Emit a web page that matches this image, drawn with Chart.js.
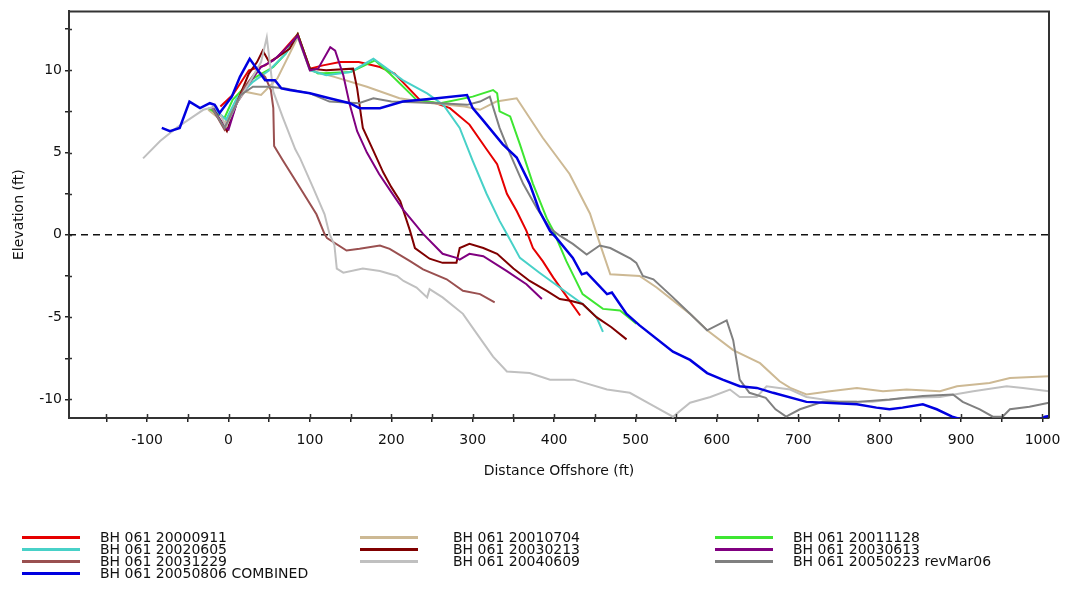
<!DOCTYPE html>
<html>
<head>
<meta charset="utf-8">
<title>BH 061 beach profiles</title>
<script src="https://cdn.jsdelivr.net/npm/chart.js@4.4.1/dist/chart.umd.min.js"></script>
<style>
  body { margin: 0; background: #fff; }
  #wrap { position: relative; width: 1071px; height: 613px; }
  #legend { position: absolute; left: 0; top: 0; width: 1071px; height: 613px; pointer-events: none;
            font: 14px "DejaVu Sans", sans-serif; color: #111; }
  .item { position: absolute; height: 12px; line-height: 12px; white-space: nowrap; }
  .swatch { position: absolute; left: 0; top: 5px; width: 58px; height: 3px; }
  .label { position: absolute; top: 0; }
</style>
</head>
<body>
<div id="wrap">
  <canvas id="chart"></canvas>
  <div id="legend"></div>
</div>
<script>
// axis ranges and ticks
const X_MIN = -196, X_MAX = 1008;
const Y_MIN = -11.13, Y_MAX = 13.58;
const X_TICKS = [-150, -100, -50, 0, 50, 100, 150, 200, 250, 300, 350, 400, 450, 500,
                 550, 600, 650, 700, 750, 800, 850, 900, 950, 1000];
const Y_TICKS = [-10, -7.5, -5, -2.5, 0, 2.5, 5, 7.5, 10, 12.5];

// profile names, in legend order
const names = ['BH 061 20000911', 'BH 061 20010704', 'BH 061 20011128',
               'BH 061 20020605', 'BH 061 20030213', 'BH 061 20030613',
               'BH 061 20031229', 'BH 061 20040609', 'BH 061 20050223 revMar06',
               'BH 061 20050806 COMBINED'];
const colors = ['#e60000', '#cdb994', '#3ee632', '#48d1c8', '#800000', '#800080',
                '#9a5050', '#c0c0c0', '#808080', '#0000e0'];

// [distance offshore (ft), elevation (ft)]
const p20000911 = [[-10,7.8],[5,8.5],[25,10.0],[45,10.3],[60,10.8],[85,12.2],[100,10.1],[116,10.3],
  [137,10.5],[160,10.5],[186,10.2],[204,9.8],[235,8.2],[255,8.0],[272,7.7],[296,6.7],[317,5.2],
  [330,4.3],[342,2.5],[354,1.45],[366,0.24],[374,-0.8],[386,-1.6],[399,-2.6],[419,-4.0],[432,-4.9]];
const p20010704 = [[-25,7.6],[-5,6.8],[10,8.0],[20,8.7],[40,8.5],[60,9.5],[85,12.0],[100,10.0],
  [130,9.6],[170,9.0],[210,8.3],[250,8.0],[290,7.8],[309,7.6],[329,8.1],[354,8.3],[386,5.9],
  [419,3.7],[444,1.3],[456,-0.5],[469,-2.4],[505,-2.5],[526,-3.2],[567,-4.8],[588,-5.8],
  [620,-7.0],[653,-7.8],[677,-8.9],[690,-9.3],[710,-9.7],[739,-9.5],[772,-9.3],[804,-9.5],
  [833,-9.4],[874,-9.5],[895,-9.2],[935,-9.0],[960,-8.7],[1008,-8.6]];
const p20011128 = [[-25,7.7],[-5,7.1],[5,8.2],[30,9.5],[55,10.2],[70,11.0],[85,12.2],[100,10.1],
  [110,9.8],[150,9.9],[180,10.6],[198,9.8],[231,8.2],[260,8.0],[300,8.4],[325,8.8],[330,8.6],
  [333,7.5],[346,7.2],[358,5.5],[374,3.1],[391,1.0],[399,0.25],[415,-1.6],[435,-3.6],
  [460,-4.5],[481,-4.6],[501,-5.4]];
const p20020605 = [[-18,7.7],[-3,7.0],[10,8.3],[30,9.3],[50,10.0],[70,11.0],[85,12.1],[100,10.0],
  [120,9.7],[150,9.9],[178,10.7],[214,9.4],[244,8.6],[264,7.9],[284,6.5],[300,4.5],[317,2.5],
  [333,0.85],[342,0.05],[358,-1.4],[382,-2.3],[407,-3.2],[435,-4.2],[452,-5.0],[460,-5.9]];
const p20030213 = [[-20,7.7],[-8,6.8],[-2,6.3],[10,8.0],[25,9.8],[35,10.5],[42,11.2],[50,10.5],
  [60,10.8],[75,11.3],[85,12.2],[100,10.1],[120,10.0],[153,10.1],[158,8.9],[165,6.5],[178,5.1],
  [190,3.8],[200,2.9],[211,2.05],[223,0.24],[229,-0.8],[247,-1.45],[263,-1.7],[280,-1.7],
  [284,-0.8],[296,-0.55],[313,-0.8],[330,-1.15],[350,-2.05],[370,-2.8],[391,-3.4],[407,-3.9],
  [420,-4.0],[435,-4.2],[452,-5.0],[470,-5.6],[489,-6.35]];
const p20030613 = [[-20,7.8],[-6,6.6],[0,6.4],[10,8.0],[25,9.2],[40,10.2],[55,10.6],[70,11.3],
  [85,12.1],[100,10.0],[110,10.1],[125,11.4],[131,11.2],[141,9.7],[149,7.9],[158,6.3],[170,5.0],
  [185,3.7],[200,2.6],[215,1.5],[230,0.6],[239,0.06],[263,-1.15],[280,-1.4],[284,-1.5],
  [296,-1.15],[313,-1.3],[342,-2.2],[366,-3.0],[385,-3.9]];
const p20031229 = [[-20,7.7],[-5,6.4],[5,7.5],[20,9.0],[35,10.0],[45,9.6],[52,8.8],[55,7.7],
  [56,5.4],[67,4.5],[88,2.85],[108,1.25],[118,0.05],[121,-0.2],[145,-0.95],[161,-0.85],
  [186,-0.65],[198,-0.85],[223,-1.6],[239,-2.1],[268,-2.7],[288,-3.4],[309,-3.6],[327,-4.1]];
const p20040609 = [[-105,4.65],[-84,5.7],[-64,6.5],[-43,7.2],[-31,7.6],[-15,7.8],[-3,6.6],
  [10,8.0],[25,9.2],[40,10.5],[47,12.0],[55,8.7],[67,7.1],[82,5.2],[88,4.65],[104,2.85],
  [118,1.25],[124,0.05],[130,-0.6],[133,-2.05],[141,-2.3],[165,-2.05],[186,-2.2],[207,-2.5],
  [215,-2.8],[231,-3.2],[244,-3.8],[247,-3.3],[263,-3.8],[288,-4.8],[305,-6.0],[325,-7.4],
  [342,-8.3],[370,-8.4],[395,-8.8],[424,-8.8],[465,-9.4],[493,-9.6],[522,-10.4],[546,-11.05],
  [567,-10.2],[592,-9.85],[616,-9.4],[628,-9.85],[649,-9.85],[661,-9.2],[690,-9.4],[710,-9.85],
  [751,-10.15],[791,-10.15],[833,-9.9],[874,-9.85],[915,-9.5],[956,-9.2],[976,-9.3],[1008,-9.5]];
const p20050223 = [[-20,7.7],[-5,6.5],[5,7.5],[15,8.5],[30,9.0],[50,9.0],[70,8.9],[100,8.6],
  [124,8.1],[160,8.0],[178,8.3],[200,8.1],[260,8.0],[293,7.9],[309,8.1],[321,8.4],[333,6.5],
  [346,4.9],[362,3.1],[379,1.6],[395,0.4],[407,-0.05],[423,-0.55],[440,-1.2],[456,-0.65],
  [469,-0.8],[494,-1.45],[501,-1.7],[509,-2.5],[522,-2.7],[546,-3.8],[567,-4.8],[588,-5.8],
  [612,-5.2],[620,-6.4],[628,-8.8],[640,-9.6],[660,-9.9],[672,-10.6],[685,-11.05],[702,-10.6],
  [730,-10.15],[772,-10.15],[812,-10.0],[853,-9.8],[890,-9.7],[902,-10.15],[923,-10.6],
  [939,-11.05],[951,-11.05],[960,-10.6],[984,-10.45],[1008,-10.2]];
const p20050806 = [[-82,6.5],[-72,6.3],[-60,6.5],[-48,8.1],[-35,7.7],[-23,8.0],[-17,7.9],
  [-11,7.4],[4,8.4],[14,9.6],[26,10.7],[36,10.0],[45,9.4],[57,9.4],[65,8.9],[75,8.8],[100,8.6],
  [124,8.3],[149,8.0],[161,7.7],[186,7.7],[214,8.1],[256,8.3],[293,8.5],[300,7.7],[312,7.0],
  [337,5.5],[354,4.7],[370,3.1],[382,1.45],[395,0.24],[403,-0.2],[423,-1.4],[434,-2.4],
  [440,-2.3],[465,-3.6],[471,-3.5],[489,-4.8],[505,-5.5],[546,-7.1],[567,-7.6],[588,-8.4],
  [607,-8.8],[628,-9.2],[649,-9.3],[669,-9.6],[710,-10.15],[772,-10.3],[796,-10.5],[812,-10.6],
  [828,-10.5],[853,-10.3],[870,-10.6],[889,-11.05],[920,-11.5],[990,-11.4],[1003,-11.05],[1010,-11.0]];
const profiles = [p20000911, p20010704, p20011128, p20020605, p20030213, p20030613,
                  p20031229, p20040609, p20050223, p20050806];

// zero elevation reference line
const zeroLine = [[X_MIN, 0], [X_MAX, 0]];

const FONT = { family: '"DejaVu Sans", sans-serif', size: 14 };

const datasets = profiles.map((pts, i) => ({
  label: names[i],
  data: pts.map(p => ({ x: p[0], y: p[1] })),
  borderColor: colors[i],
  borderWidth: i === profiles.length - 1 ? 2.5 : 2,
  pointRadius: 0,
  fill: false,
  tension: 0,
  order: profiles.length - i
}));
datasets.push({
  label: 'zero',
  data: zeroLine.map(p => ({ x: p[0], y: p[1] })),
  borderColor: '#111',
  borderWidth: 1.5,
  borderDash: [7, 5],
  pointRadius: 0,
  order: 100
});

// top/right frame plus inner half of the tick marks
const framePlugin = {
  id: 'frame',
  afterDatasetsDraw(chart) {
    const { ctx, chartArea: a, scales } = chart;
    ctx.save();
    ctx.strokeStyle = '#333';
    ctx.lineWidth = 2;
    ctx.beginPath();
    ctx.moveTo(a.left, a.top);
    ctx.lineTo(a.right, a.top);
    ctx.lineTo(a.right, a.bottom);
    ctx.stroke();
    ctx.lineWidth = 1.5;
    ctx.beginPath();
    scales.x.ticks.forEach(t => {
      const px = Math.round(scales.x.getPixelForValue(t.value)) + 0.5;
      ctx.moveTo(px, a.bottom);
      ctx.lineTo(px, a.bottom - 4);
    });
    scales.y.ticks.forEach(t => {
      const py = Math.round(scales.y.getPixelForValue(t.value)) + 0.5;
      ctx.moveTo(a.left, py);
      ctx.lineTo(a.left + 3, py);
    });
    ctx.stroke();
    ctx.restore();
  }
};

new Chart(document.getElementById('chart'), {
  type: 'line',
  data: { datasets },
  options: {
    responsive: true,
    maintainAspectRatio: false,
    animation: false,
    events: [],
    layout: { padding: { left: 7, top: 8, right: 22, bottom: 129 } },
    plugins: { legend: { display: false }, tooltip: { enabled: false } },
    scales: {
      x: {
        type: 'linear',
        min: X_MIN,
        max: X_MAX,
        afterBuildTicks: axis => { axis.ticks = X_TICKS.map(v => ({ value: v })); },
        afterFit: s => { s.height = 66; },
        ticks: {
          autoSkip: false, maxRotation: 0, padding: 10, color: '#111', font: FONT,
          callback: v => (v % 100 === 0 ? String(v) : '')
        },
        grid: { drawOnChartArea: false, drawTicks: true, tickLength: 4, color: '#222', lineWidth: 1.5 },
        border: { color: '#333', width: 2 },
        title: { display: true, text: 'Distance Offshore (ft)', color: '#111', font: FONT, padding: 4 }
      },
      y: {
        type: 'linear',
        min: Y_MIN,
        max: Y_MAX,
        afterBuildTicks: axis => { axis.ticks = Y_TICKS.map(v => ({ value: v })); },
        afterFit: s => { s.width = 62; },
        ticks: {
          autoSkip: false, padding: 3, color: '#111', font: FONT,
          callback: v => (v % 5 === 0 ? String(v) : '')
        },
        grid: { drawOnChartArea: false, drawTicks: true, tickLength: 4, color: '#222', lineWidth: 1.5 },
        border: { color: '#333', width: 2 },
        title: { display: true, text: 'Elevation (ft)', color: '#111', font: FONT, padding: 4 }
      }
    }
  },
  plugins: [framePlugin]
});

// legend below the plot: three columns, filled row by row
const legendCols = [{ line: 22, text: 100 }, { line: 360, text: 453 }, { line: 715, text: 793 }];
const legendTop = 531, legendRow = 12;
const legend = document.getElementById('legend');
names.forEach((name, i) => {
  const col = legendCols[i % 3];
  const row = Math.floor(i / 3);
  const item = document.createElement('div');
  item.className = 'item';
  item.style.left = col.line + 'px';
  item.style.top = (legendTop + row * legendRow) + 'px';
  const sw = document.createElement('div');
  sw.className = 'swatch';
  sw.style.background = colors[i];
  const lb = document.createElement('span');
  lb.className = 'label';
  lb.style.left = (col.text - col.line) + 'px';
  lb.textContent = name;
  item.appendChild(sw);
  item.appendChild(lb);
  legend.appendChild(item);
});
</script>
</body>
</html>
